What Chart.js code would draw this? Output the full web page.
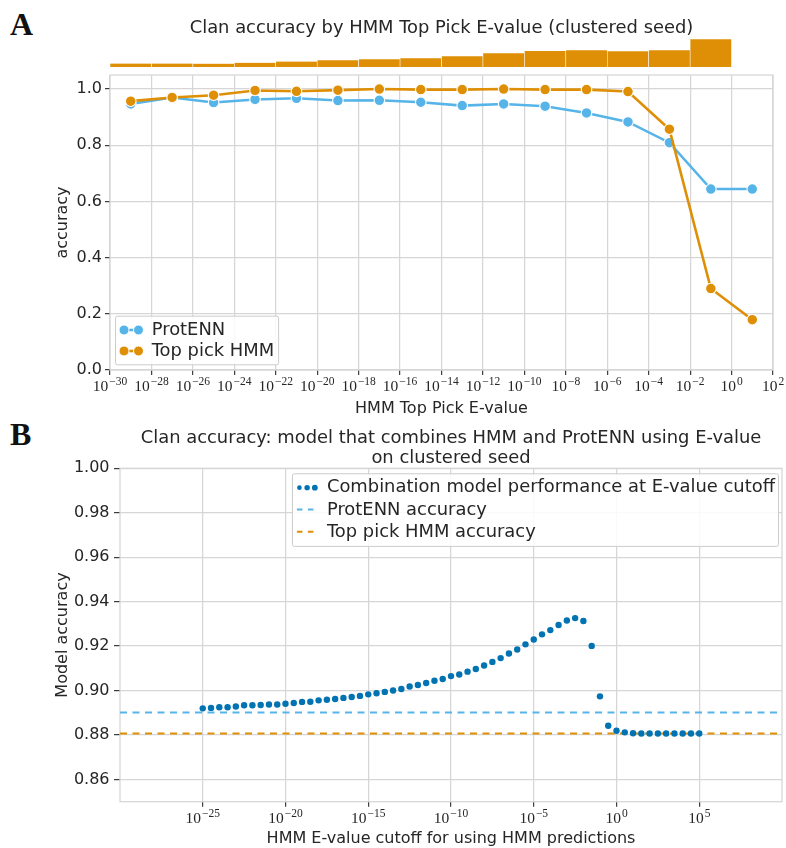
<!DOCTYPE html>
<html>
<head>
<meta charset="utf-8">
<title>Clan accuracy by HMM E-value</title>
<script src="https://cdn.jsdelivr.net/npm/chart.js@4.4.1/dist/chart.umd.min.js"></script>
<style>
  html, body { margin: 0; padding: 0; background: #ffffff; width: 786px; height: 848px; overflow: hidden; }
  canvas { position: absolute; left: 0; }
  .tag { position: absolute; left: 10px; font: bold 32px/32px "Liberation Serif", "DejaVu Serif", serif; color: #111111; }
</style>
</head>
<body>
<div class="tag" style="top:8px">A</div>
<div class="tag" style="top:418px">B</div>
<canvas id="histA" width="786" height="68" style="top:0px"></canvas>
<canvas id="lineA" width="786" height="352" style="top:68px"></canvas>
<canvas id="chartB" width="786" height="428" style="top:420px"></canvas>
<script>
// ---------- Panel A: accuracy per HMM top-pick E-value bin ----------
// bin centres (each bin spans two decades)
const A_BIN_EVALUE = [1e-29, 1e-27, 1e-25, 1e-23, 1e-21, 1e-19, 1e-17, 1e-15,
                      1e-13, 1e-11, 1e-9, 1e-7, 1e-5, 1e-3, 1e-1, 1e1];
const A_PROTENN_ACC = [0.947, 0.970, 0.952, 0.963, 0.967, 0.959, 0.960, 0.953,
                       0.941, 0.947, 0.939, 0.915, 0.883, 0.809, 0.644, 0.644];
const A_HMM_ACC     = [0.957, 0.970, 0.978, 0.995, 0.992, 0.996, 1.000, 0.998,
                       0.998, 1.000, 0.998, 0.998, 0.991, 0.857, 0.290, 0.179];
// marginal histogram: sequences per bin
const A_HIST_EVALUE = [1e-29, 1e-27, 1e-25, 1e-23, 1e-21, 1e-19, 1e-17, 1e-15,
                       1e-13, 1e-11, 1e-9, 1e-7, 1e-5, 1e-3, 1e-1];
const A_HIST_COUNT  = [340, 340, 330, 420, 540, 670, 770, 870,
                       1070, 1370, 1600, 1670, 1570, 1670, 2770];
const A_TICK_EVALUE = [1e-30, 1e-28, 1e-26, 1e-24, 1e-22, 1e-20, 1e-18, 1e-16, 1e-14,
                       1e-12, 1e-10, 1e-8, 1e-6, 1e-4, 1e-2, 1e0, 1e2];
const A_ACC_TICKS = [0.0, 0.2, 0.4, 0.6, 0.8, 1.0];

// ---------- Panel B: combined model vs. E-value cutoff ----------
const B_CUTOFF_EXP = [-25, -24.5, -24, -23.5, -23, -22.5, -22, -21.5, -21, -20.5,
                      -20, -19.5, -19, -18.5, -18, -17.5, -17, -16.5, -16, -15.5,
                      -15, -14.5, -14, -13.5, -13, -12.5, -12, -11.5, -11, -10.5,
                      -10, -9.5, -9, -8.5, -8, -7.5, -7, -6.5, -6, -5.5,
                      -5, -4.5, -4, -3.5, -3, -2.5, -2, -1.5, -1, -0.5,
                      0, 0.5, 1, 1.5, 2, 2.5, 3, 3.5, 4, 4.5, 5];
const B_COMBINED_ACC = [0.8920, 0.8922, 0.8925, 0.8925, 0.8928, 0.8934, 0.8934, 0.8935, 0.8937, 0.8937,
                        0.8941, 0.8944, 0.8949, 0.8950, 0.8956, 0.8959, 0.8962, 0.8967, 0.8971, 0.8976,
                        0.8983, 0.8988, 0.8994, 0.9000, 0.9007, 0.9018, 0.9025, 0.9034, 0.9044, 0.9052,
                        0.9065, 0.9072, 0.9085, 0.9097, 0.9113, 0.9129, 0.9146, 0.9167, 0.9185, 0.9208,
                        0.9230, 0.9253, 0.9272, 0.9295, 0.9315, 0.9326, 0.9313, 0.9201, 0.8974, 0.8842,
                        0.8819, 0.8812, 0.8808, 0.8807, 0.8807, 0.8807, 0.8807, 0.8807, 0.8807, 0.8807, 0.8807];
const B_PROTENN_ACC = 0.8901;
const B_HMM_ACC = 0.8807;
const B_TICK_EXP = [-25, -20, -15, -10, -5, 0, 5];
const B_ACC_TICKS = [0.86, 0.88, 0.90, 0.92, 0.94, 0.96, 0.98, 1.00];

// ---------- styling ----------
Chart.defaults.font.family = '"DejaVu Sans", "Noto Sans", sans-serif';
Chart.defaults.color = '#262626';
const TEXT = '#262626';
const GRID = '#d6d6d6';
const TICK_MARK = '#3c3c3c';
const SKY = '#56B4E9', ORANGE = '#DE8F05', BLUE = '#0173B2';
const BIG = 17.9;

function expText(e) { return e < 0 ? '\u2212' + Math.abs(e) : String(e); }

// box around the plotting area
const frame = {
  id: 'frame',
  beforeDatasetsDraw(chart) {
    const { ctx, chartArea: a } = chart;
    ctx.save();
    ctx.strokeStyle = GRID;
    ctx.lineWidth = 1.25;
    ctx.strokeRect(a.left, a.top, a.right - a.left, a.bottom - a.top);
    ctx.restore();
  }
};

// "10^n" labels under the logarithmic x axis
const powerLabels = {
  id: 'powerLabels',
  afterDraw(chart, args, o) {
    const scale = chart.scales.x;
    const { ctx } = chart;
    const base = o.size + 'px "Liberation Serif", "DejaVu Serif", serif';
    const sup = o.supSize + 'px "Liberation Serif", "DejaVu Serif", serif';
    const y = chart.chartArea.bottom + o.offset;
    ctx.save();
    ctx.fillStyle = TEXT;
    ctx.textAlign = 'left';
    ctx.textBaseline = 'alphabetic';
    scale.ticks.forEach(t => {
      const e = Math.round(Math.log10(t.value));
      const s = expText(e);
      const x = scale.getPixelForValue(t.value);
      ctx.font = base; const w1 = ctx.measureText('10').width;
      ctx.font = sup; const w2 = ctx.measureText(s).width;
      const x0 = x - (w1 + w2 + 1) / 2;
      ctx.font = base; ctx.fillText('10', x0, y);
      ctx.font = sup; ctx.fillText(s, x0 + w1 + 1, y - o.rise);
    });
    ctx.restore();
  }
};

function drawHandle(ctx, kind, color, hx, cy, w) {
  ctx.save();
  if (kind === 'line-dots') {
    ctx.strokeStyle = color; ctx.lineWidth = 2.6;
    ctx.beginPath(); ctx.moveTo(hx + 4.7, cy); ctx.lineTo(hx + 19.2, cy); ctx.stroke();
    [hx + 4.7, hx + 19.2].forEach(px => {
      ctx.beginPath(); ctx.arc(px, cy, 5, 0, Math.PI * 2);
      ctx.fillStyle = color; ctx.fill();
      ctx.strokeStyle = '#ffffff'; ctx.lineWidth = 1; ctx.stroke();
    });
  } else if (kind === 'dots') {
    ctx.fillStyle = color;
    [[hx + 2.5, 2.3], [hx + 10.2, 2.7], [hx + 17.9, 2.9]].forEach(([px, r]) => {
      ctx.beginPath(); ctx.arc(px, cy + 0.5, r, 0, Math.PI * 2); ctx.fill();
    });
  } else {
    ctx.strokeStyle = color; ctx.lineWidth = 2;
    ctx.setLineDash([5.5, 5.5]);
    ctx.beginPath(); ctx.moveTo(hx, cy); ctx.lineTo(hx + 17, cy); ctx.stroke();
  }
  ctx.restore();
}

// framed legend placed inside a corner of the plotting area
const boxLegend = {
  id: 'boxLegend',
  afterDraw(chart, args, o) {
    const { ctx, chartArea: a } = chart;
    const items = chart.data.datasets.map(d => ({ label: d.label, kind: d.legendKind, color: d.legendColor }));
    ctx.save();
    ctx.font = o.fontSize + 'px "DejaVu Sans", sans-serif';
    const tw = Math.max(...items.map(i => ctx.measureText(i.label).width));
    const w = o.padX + o.handleW + o.gap + tw + o.padRight;
    const h = o.padTop + items.length * o.rowH + o.padBottom;
    const left = o.corner.indexOf('left') >= 0 ? a.left + o.dx : a.right - o.dx - w;
    const top = o.corner.indexOf('bottom') >= 0 ? a.bottom - o.dy - h : a.top + o.dy;
    ctx.beginPath();
    if (ctx.roundRect) ctx.roundRect(left + 0.5, top + 0.5, w, h, 2); else ctx.rect(left + 0.5, top + 0.5, w, h);
    ctx.fillStyle = 'rgba(255,255,255,0.85)';
    ctx.fill();
    ctx.strokeStyle = '#cccccc'; ctx.lineWidth = 1; ctx.stroke();
    items.forEach((it, i) => {
      const cy = top + o.padTop + o.rowH * (i + 0.5);
      const hx = left + o.padX;
      drawHandle(ctx, it.kind, it.color, hx, cy, o.handleW);
      ctx.fillStyle = TEXT;
      ctx.textAlign = 'left';
      ctx.textBaseline = 'middle';
      ctx.font = o.fontSize + 'px "DejaVu Sans", sans-serif';
      ctx.fillText(it.label, hx + o.handleW + o.gap, cy + 0.5);
    });
    ctx.restore();
  }
};

const baseOpts = {
  responsive: false,
  animation: false,
  devicePixelRatio: 1,
  events: []
};

function gridOpts(tickLen) {
  return { color: GRID, lineWidth: 1.25, drawTicks: true, tickLength: tickLen, tickColor: TICK_MARK, tickWidth: 1.2 };
}

// ---------- A: marginal histogram with the panel title ----------
new Chart(document.getElementById('histA'), {
  type: 'bar',
  data: {
    datasets: [{
      label: 'sequences',
      data: A_HIST_EVALUE.map((v, i) => ({ x: v, y: A_HIST_COUNT[i] })),
      backgroundColor: ORANGE,
      borderColor: 'rgba(255,255,255,0.9)',
      borderWidth: { left: 0.6, right: 0.6, top: 0, bottom: 0 },
      borderSkipped: false,
      barPercentage: 1,
      categoryPercentage: 1
    }]
  },
  options: Object.assign({}, baseOpts, {
    layout: { padding: { left: 110, right: 13, top: 0, bottom: 1 } },
    scales: {
      x: { type: 'logarithmic', min: 1e-30, max: 1e2, offset: false, display: false },
      y: { min: 0, max: 2800, display: false }
    },
    plugins: {
      legend: { display: false },
      tooltip: { enabled: false },
      title: {
        display: true,
        text: 'Clan accuracy by HMM Top Pick E-value (clustered seed)',
        color: TEXT,
        font: { size: BIG, weight: 'normal', lineHeight: 1.15 },
        padding: { top: 17.6, bottom: 0.8 }
      }
    }
  })
});

// ---------- A: accuracy lines ----------
new Chart(document.getElementById('lineA'), {
  type: 'line',
  data: {
    datasets: [
      {
        label: 'ProtENN',
        data: A_BIN_EVALUE.map((v, i) => ({ x: v, y: A_PROTENN_ACC[i] })),
        borderColor: SKY, backgroundColor: SKY,
        pointBackgroundColor: SKY, pointBorderColor: '#ffffff',
        borderWidth: 2.6, pointRadius: 5.3, pointBorderWidth: 1.1,
        tension: 0, order: 1,
        legendKind: 'line-dots', legendColor: SKY
      },
      {
        label: 'Top pick HMM',
        data: A_BIN_EVALUE.map((v, i) => ({ x: v, y: A_HMM_ACC[i] })),
        borderColor: ORANGE, backgroundColor: ORANGE,
        pointBackgroundColor: ORANGE, pointBorderColor: '#ffffff',
        borderWidth: 2.6, pointRadius: 5.3, pointBorderWidth: 1.1,
        tension: 0, order: 0,
        legendKind: 'line-dots', legendColor: ORANGE
      }
    ]
  },
  options: Object.assign({}, baseOpts, {
    layout: { padding: { left: 49, right: 13, top: 7, bottom: 0 } },
    scales: {
      x: {
        type: 'logarithmic', min: 1e-30, max: 1e2,
        afterBuildTicks: s => { s.ticks = A_TICK_EVALUE.map(v => ({ value: v })); },
        afterFit: s => { s.height = 50; },
        ticks: { display: false },
        grid: gridOpts(5),
        border: { display: false },
        title: { display: true, text: 'HMM Top Pick E-value', color: TEXT,
                 font: { size: 16 }, padding: { top: 0, bottom: 1.4 } }
      },
      y: {
        min: 0, max: 1.05,
        afterBuildTicks: s => { s.ticks = A_ACC_TICKS.map(v => ({ value: v })); },
        afterFit: s => { s.width = 61; },
        ticks: { callback: v => Number(v).toFixed(1), color: TEXT, padding: 3,
                 font: { size: 16, lineHeight: 0.5 } },
        grid: gridOpts(5),
        border: { display: false },
        title: { display: true, text: 'accuracy', color: TEXT,
                 font: { size: 16 }, padding: { top: 4.5, bottom: 0 } }
      }
    },
    plugins: {
      legend: { display: false },
      tooltip: { enabled: false },
      powerLabels: { size: 15.5, supSize: 11.5, offset: 21, rise: 6.2 },
      boxLegend: { corner: 'bottom-left', dx: 5, dy: 5.7, fontSize: BIG,
                   padX: 4.3, handleW: 24, gap: 8.4, padRight: 4,
                   padTop: 3.8, rowH: 21, padBottom: 2.8 }
    }
  }),
  plugins: [frame, powerLabels, boxLegend]
});

// ---------- B: combined model ----------
new Chart(document.getElementById('chartB'), {
  type: 'line',
  data: {
    datasets: [
      {
        label: 'Combination model performance at E-value cutoff',
        data: B_CUTOFF_EXP.map((e, i) => ({ x: Math.pow(10, e), y: B_COMBINED_ACC[i] })),
        showLine: false,
        pointRadius: 3.2, pointBorderWidth: 0,
        pointBackgroundColor: BLUE, borderColor: BLUE, backgroundColor: BLUE,
        order: 0,
        legendKind: 'dots', legendColor: BLUE
      },
      {
        label: 'ProtENN accuracy',
        data: [{ x: 1e-30, y: B_PROTENN_ACC }, { x: 1e10, y: B_PROTENN_ACC }],
        borderColor: SKY, backgroundColor: SKY,
        borderWidth: 2, borderDash: [7, 5.5], pointRadius: 0,
        order: 2,
        legendKind: 'dash', legendColor: SKY
      },
      {
        label: 'Top pick HMM accuracy',
        data: [{ x: 1e-30, y: B_HMM_ACC }, { x: 1e10, y: B_HMM_ACC }],
        borderColor: ORANGE, backgroundColor: ORANGE,
        borderWidth: 2, borderDash: [7, 5.5], pointRadius: 0,
        order: 1,
        legendKind: 'dash', legendColor: ORANGE
      }
    ]
  },
  options: Object.assign({}, baseOpts, {
    layout: { padding: { left: 49, right: 4, top: 0, bottom: 0 } },
    scales: {
      x: {
        type: 'logarithmic', min: 1e-30, max: 1e10,
        afterBuildTicks: s => { s.ticks = B_TICK_EXP.map(e => ({ value: Math.pow(10, e) })); },
        afterFit: s => { s.height = 46.3; },
        ticks: { display: false },
        grid: gridOpts(5),
        border: { display: false },
        title: { display: true, text: 'HMM E-value cutoff for using HMM predictions', color: TEXT,
                 font: { size: 16, lineHeight: 1.1 }, padding: { top: 0, bottom: 0.2 } }
      },
      y: {
        min: 0.85, max: 1.0,
        afterBuildTicks: s => { s.ticks = B_ACC_TICKS.map(v => ({ value: v })); },
        afterFit: s => { s.width = 71; },
        ticks: { callback: v => Number(v).toFixed(2), color: TEXT, padding: 4.5,
                 font: { size: 16, lineHeight: 0.5 } },
        grid: gridOpts(6),
        border: { display: false },
        title: { display: true, text: 'Model accuracy', color: TEXT,
                 font: { size: 16 }, padding: { top: 4.5, bottom: 0 } }
      }
    },
    plugins: {
      legend: { display: false },
      tooltip: { enabled: false },
      title: {
        display: true,
        fullSize: false,
        text: ['Clan accuracy: model that combines HMM and ProtENN using E-value', 'on clustered seed'],
        color: TEXT,
        font: { size: BIG, weight: 'normal', lineHeight: 1.12 },
        padding: { top: 8, bottom: 0.2 }
      },
      powerLabels: { size: 15.5, supSize: 11.5, offset: 21, rise: 6.2 },
      boxLegend: { corner: 'top-right', dx: 4, dy: 5, fontSize: BIG,
                   padX: 5, handleW: 22, gap: 8, padRight: 3,
                   padTop: 2.7, rowH: 22.3, padBottom: 3 }
    }
  }),
  plugins: [frame, powerLabels, boxLegend]
});
</script>
</body>
</html>
